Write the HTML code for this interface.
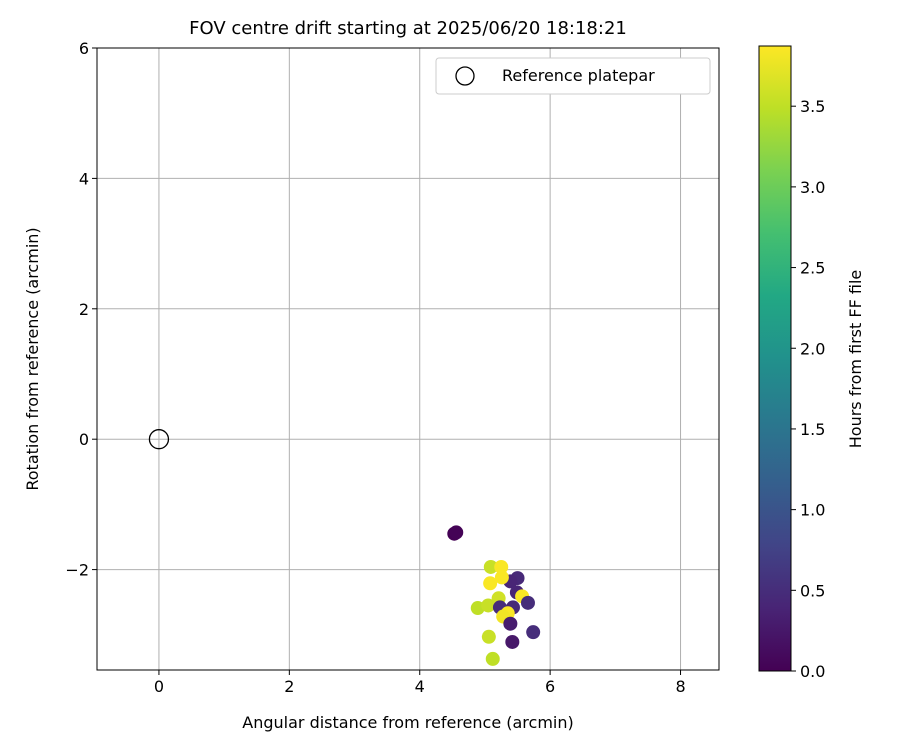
<!DOCTYPE html>
<html><head><meta charset="utf-8"><style>
body{margin:0;background:#fff;font-family:"Liberation Sans","DejaVu Sans",sans-serif;}
svg text{font-family:"DejaVu Sans","Liberation Sans",sans-serif;}
</style></head><body>
<svg id="chart" width="900" height="750" xmlns="http://www.w3.org/2000/svg">
<defs>
<linearGradient id="viridis" x1="0" y1="1" x2="0" y2="0">
<stop offset="0" stop-color="#440154"/><stop offset="0.1" stop-color="#482475"/><stop offset="0.2" stop-color="#414487"/>
<stop offset="0.3" stop-color="#355f8d"/><stop offset="0.4" stop-color="#2a788e"/><stop offset="0.5" stop-color="#21918c"/>
<stop offset="0.6" stop-color="#22a884"/><stop offset="0.7" stop-color="#44bf70"/><stop offset="0.8" stop-color="#7ad151"/>
<stop offset="0.9" stop-color="#bddf26"/><stop offset="1" stop-color="#fde725"/>
</linearGradient>
<clipPath id="clip"><rect x="97" y="48" width="622" height="622"/></clipPath>
</defs>
<text x="408" y="34" font-size="18" text-anchor="middle">FOV centre drift starting at 2025/06/20 18:18:21</text>
<g id="grid"></g>
<g id="points" clip-path="url(#clip)"></g>
<rect x="97" y="48" width="622" height="622" fill="none" stroke="#000" stroke-width="1"/>
<g id="ticks"></g>
<text x="408" y="728" font-size="16" text-anchor="middle">Angular distance from reference (arcmin)</text>
<text transform="translate(38,359) rotate(-90)" font-size="16" text-anchor="middle">Rotation from reference (arcmin)</text>
<g>
<rect x="436" y="58" width="274" height="36" rx="3" fill="#fff" stroke="#ccc"/>
<circle cx="465" cy="76" r="9" fill="none" stroke="#000" stroke-width="1.3"/>
<text x="502" y="81" font-size="16">Reference platepar</text>
</g>
<rect x="759" y="46" width="32" height="625" fill="url(#viridis)" stroke="#000"/>
<g id="cbticks"></g>
<text transform="translate(861,359) rotate(-90)" font-size="16" text-anchor="middle">Hours from first FF file</text>
</svg>
<script>
const xTicks=[0,2,4,6,8];
const yTicks=[-2,0,2,4,6];
const cTicks=[0,0.5,1,1.5,2,2.5,3,3.5];
const refX=[0];const refY=[0];
const ptX=[4.53,4.56,5.09,5.25,5.5,5.39,5.26,5.08,5.49,5.57,5.21,5.66,4.89,5.05,5.43,5.23,5.35,5.28,5.39,5.74,5.06,5.42,5.12];
const ptY=[-1.45,-1.43,-1.96,-1.96,-2.13,-2.18,-2.12,-2.21,-2.35,-2.41,-2.44,-2.51,-2.59,-2.55,-2.58,-2.58,-2.67,-2.72,-2.83,-2.96,-3.03,-3.11,-3.37];
const ptH=[0.0,0.02,3.55,3.85,0.45,0.4,3.85,3.85,0.4,3.85,3.6,0.5,3.5,3.55,0.45,0.5,3.85,3.8,0.3,0.5,3.55,0.25,3.5];
const NS="http://www.w3.org/2000/svg";
const X0=97,X1=719,Y0=48,Y1=670,xmin=-0.95,xmax=8.59,ymin=-3.54,ymax=6.0,cmax=3.873;
const sx=v=>X0+(v-xmin)/(xmax-xmin)*(X1-X0);
const sy=v=>Y1-(v-ymin)/(ymax-ymin)*(Y1-Y0);
const sc=v=>671-v/cmax*625;
const stops=["#440154","#482475","#414487","#355f8d","#2a788e","#21918c","#22a884","#44bf70","#7ad151","#bddf26","#fde725"];
function hex(h){return [1,3,5].map(i=>parseInt(h.substr(i,2),16));}
function cmap(t){t=Math.max(0,Math.min(1,t))*10;const i=Math.min(9,Math.floor(t)),f=t-i;const a=hex(stops[i]),b=hex(stops[i+1]);return "rgb("+a.map((v,k)=>Math.round(v+(b[k]-v)*f)).join(",")+")";}
function mk(tag,attrs,parent){const e=document.createElementNS(NS,tag);for(const k in attrs)e.setAttribute(k,attrs[k]);parent.appendChild(e);return e;}
const grid=document.getElementById('grid'),ticks=document.getElementById('ticks'),pts=document.getElementById('points'),cb=document.getElementById('cbticks');
xTicks.forEach(v=>{const x=sx(v);
const g=mk('line',{x1:x,x2:x,y1:Y0,y2:Y1,stroke:'#b0b0b0','stroke-width':1},grid);


mk('line',{x1:x,x2:x,y1:Y1,y2:Y1+5,stroke:'#000'},ticks);
const t=mk('text',{x:x,y:Y1+22,'font-size':16,'text-anchor':'middle'},ticks);t.textContent=v;

});
yTicks.forEach(v=>{const y=sy(v);
const g=mk('line',{x1:X0,x2:X1,y1:y,y2:y,stroke:'#b0b0b0','stroke-width':1},grid);


mk('line',{x1:X0-5,x2:X0,y1:y,y2:y,stroke:'#000'},ticks);
const t=mk('text',{x:X0-8,y:y+6,'font-size':16,'text-anchor':'end'},ticks);t.textContent=v<0?'\u2212'+(-v):v;

});
cTicks.forEach(v=>{const y=sc(v);
mk('line',{x1:791,x2:796,y1:y,y2:y,stroke:'#000'},cb);
const t=mk('text',{x:800,y:y+6,'font-size':16},cb);t.textContent=v.toFixed(1);

});
ptX.forEach((v,i)=>{const c=mk('circle',{cx:sx(v),cy:sy(ptY[i]),r:7,fill:cmap(ptH[i]/cmax)},pts);

});
refX.forEach((v,i)=>{const c=mk('circle',{cx:sx(v),cy:sy(refY[i]),r:9.5,fill:'none',stroke:'#000','stroke-width':1.3},pts);

});
</script>
</body></html>
